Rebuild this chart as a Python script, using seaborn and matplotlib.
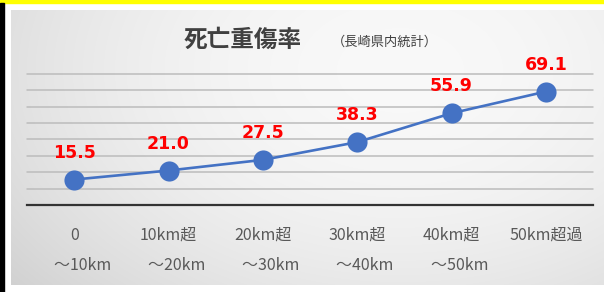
import numpy as np
import pandas as pd
import matplotlib
matplotlib.use("Agg")
import matplotlib.pyplot as plt
import seaborn as sns

# データ（長崎県内統計）
categories = ["0\n\u3000～10km", "10km超\n\u3000～20km", "20km超\n\u3000～30km",
              "30km超\n\u3000～40km", "40km超\n\u3000～50km", "50km超過\n"]
rates = [15.5, 21.0, 27.5, 38.3, 55.9, 69.1]
y_ticks = [10, 20, 30, 40, 50, 60, 70, 80]

sns.set_style("white")
plt.rcParams['font.family'] = ['Noto Sans CJK JP', 'DejaVu Sans']

W, H = 604, 292
fig = plt.figure(figsize=(W / 100, H / 100), dpi=100)
fig.patch.set_facecolor("white")

# 枠線（上の黄色、左の黒）
fig.add_artist(plt.Rectangle((0, 1 - 2.5 / H), 1, 2.5 / H, transform=fig.transFigure,
                             color="#ffff00", zorder=0))
fig.add_artist(plt.Rectangle((0, 0), 3.5 / W, 1 - 2.5 / H, transform=fig.transFigure,
                             color="black", zorder=0))

# グレーのグラデーション背景
px0, py0, px1, py1 = 11, 10, 604, 285
bg = fig.add_axes([px0 / W, 1 - py1 / H, (px1 - px0) / W, (py1 - py0) / H], zorder=0)
xx, yy = np.meshgrid(np.arange(px0, px1), np.arange(py0, py1))
r = np.sqrt(((xx - 400) / 480) ** 2 + ((yy - 70) / 320) ** 2)
val = np.clip(0.975 - 0.14 * r ** 2, 0.8, 1)
bg.imshow(np.dstack([val, val, val]), aspect="auto", interpolation="bilinear")
bg.axis("off")

ax = fig.add_axes([27 / W, 1 - 205 / H, (593 - 27) / W, (205 - 73.7) / H], zorder=2)
ax.patch.set_alpha(0)

df = pd.DataFrame({"区間": categories, "率": rates})
sns.lineplot(data=df, x="区間", y="率", sort=False, ax=ax, color="#4472c4",
             linewidth=1.9, marker="o", markersize=14.5, markeredgewidth=0, zorder=3)

for i, v in enumerate(rates):
    ax.annotate(f"{v:.1f}", (i, v), xytext=(0, 27), textcoords="offset pixels",
                ha="center", va="center", color="#ff0000", fontsize=12.5,
                fontweight="bold", family=["DejaVu Sans"], zorder=4)

ax.set_xlim(-0.5, len(categories) - 0.5)
ax.set_ylim(0, 80)
ax.set_yticks(y_ticks)
ax.yaxis.grid(True, color="#bcbcbc", linewidth=1.1)
ax.set_axisbelow(True)
for g in ax.get_ygridlines():
    g.set_clip_on(False)
ax.tick_params(axis="y", left=False, labelleft=False)
ax.tick_params(axis="x", bottom=False, pad=12, labelsize=11.5, labelcolor="#595959")
ax.set_xticks(range(len(categories)))
ax.set_xticklabels(categories, linespacing=2.0)
for s in ["top", "right", "left"]:
    ax.spines[s].set_visible(False)
ax.spines["bottom"].set_color("#333333")
ax.spines["bottom"].set_linewidth(1.6)
ax.set_xlabel("")
ax.set_ylabel("")

fig.text(243 / W, 1 - 40 / H, "死亡重傷率", ha="center", va="center",
         fontsize=17, fontweight="bold", color="#404040")
fig.text(385 / W, 1 - 42 / H, "（長崎県内統計）", ha="center", va="center",
         fontsize=9.5, color="#404040")

fig.savefig("out.png", dpi=100)
